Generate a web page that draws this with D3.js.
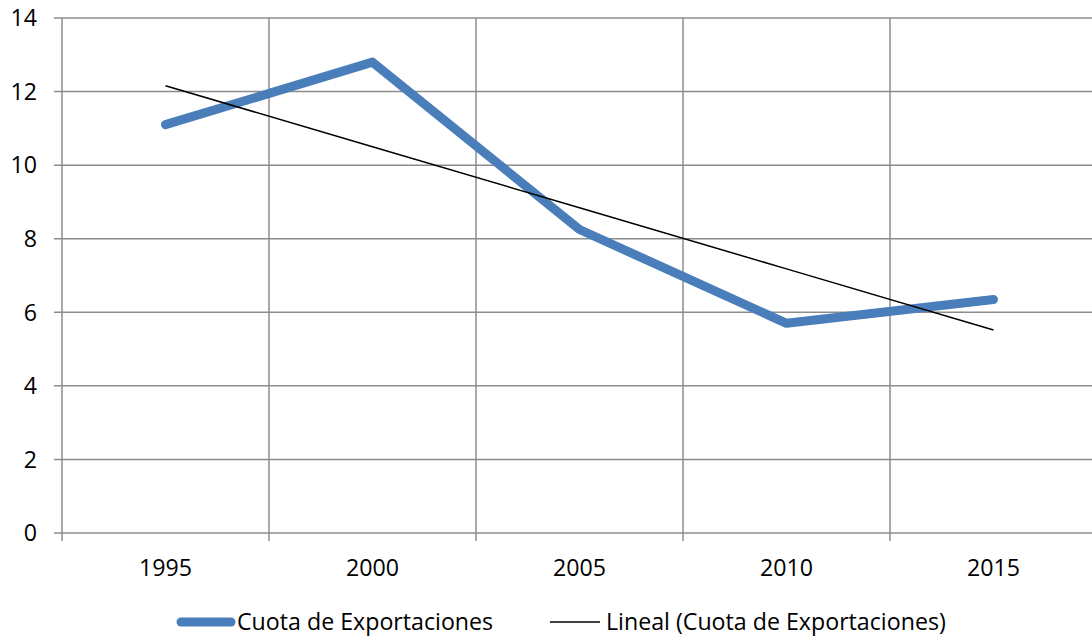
<!DOCTYPE html>
<html><head><meta charset="utf-8">
<script src="https://cdn.jsdelivr.net/npm/d3@7"></script>
<style>body{margin:0;background:#fff}svg{display:block}text{font-family:"Open Sans","Noto Sans",sans-serif;fill:#000}</style>
</head><body><svg id="c" width="1092" height="639"></svg>
<script>
const categories = ["1995","2000","2005","2010","2015"];
const values = [11.1, 12.8, 8.25, 5.7, 6.35];
const yTicks = [0,2,4,6,8,10,12,14];
const seriesName = "Cuota de Exportaciones";
const trendName = "Lineal (Cuota de Exportaciones)";

const svg = d3.select("#c");
const L = 62, R = 1097, T = 18, B = 533;
const FS = 23.2;
const xBand = d3.scaleBand().domain(categories).range([L, R]);
const x = d => xBand(d) + xBand.bandwidth()/2;
const y = d3.scaleLinear().domain([0,14]).range([B, T]);
const grid = "#8c8c8c";

svg.append("g").selectAll("line").data(yTicks).join("line")
  .attr("x1", L-8).attr("x2", 1092).attr("y1", d=>y(d)).attr("y2", d=>y(d))
  .attr("stroke", grid).attr("stroke-width", 1.5);
const bounds = categories.map(c => xBand(c));
svg.append("g").selectAll("line").data(bounds).join("line")
  .attr("x1", d=>d).attr("x2", d=>d).attr("y1", T).attr("y2", B+8)
  .attr("stroke", grid).attr("stroke-width", 1.5);

svg.append("g").selectAll("text").data(yTicks).join("text")
  .attr("x", 37).attr("y", d=>y(d)).attr("dy", "0.36em").attr("text-anchor","end")
  .attr("font-size", FS).text(d=>d);
svg.append("g").selectAll("text").data(categories).join("text")
  .attr("x", d=>x(d)).attr("y", 568).attr("dy","0.36em").attr("text-anchor","middle")
  .attr("font-size", FS).text(d=>d);

const line = d3.line().x((d,i)=>x(categories[i])).y(d=>y(d));
svg.append("path").datum(values).attr("d", line)
  .attr("fill","none").attr("stroke","#4a7ebb").attr("stroke-width",9)
  .attr("stroke-linejoin","round").attr("stroke-linecap","round");

const n = values.length;
const xs = d3.range(1, n+1);
const mx = d3.mean(xs), my = d3.mean(values);
const slope = d3.sum(xs.map((xi,i)=>(xi-mx)*(values[i]-my))) / d3.sum(xs.map(xi=>(xi-mx)**2));
const icpt = my - slope*mx;
const trend = xs.map(xi => icpt + slope*xi);
svg.append("path").datum(trend).attr("d", line)
  .attr("fill","none").attr("stroke","#000").attr("stroke-width",1.5);

const lg = svg.append("g");
lg.append("line").attr("x1",181).attr("x2",231).attr("y1",622).attr("y2",622)
  .attr("stroke","#4a7ebb").attr("stroke-width",9).attr("stroke-linecap","round");
lg.append("text").attr("x",237).attr("y",622).attr("dy","0.36em").attr("font-size",FS).text(seriesName);
lg.append("line").attr("x1",550).attr("x2",600).attr("y1",622).attr("y2",622)
  .attr("stroke","#000").attr("stroke-width",1.5);
lg.append("text").attr("x",606).attr("y",622).attr("dy","0.36em").attr("font-size",FS).text(trendName);
</script></body></html>
